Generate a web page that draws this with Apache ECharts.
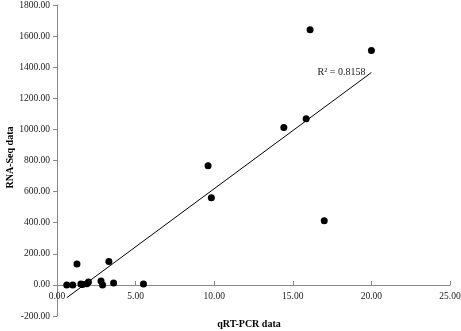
<!DOCTYPE html>
<html>
<head>
<meta charset="utf-8">
<script src="https://cdn.jsdelivr.net/npm/echarts@6/dist/echarts.min.js"></script>
<style>
    html, body { margin: 0; padding: 0; background: #fff; }
    #chart { width: 461px; height: 331px; }
</style>
</head>
<body>
<div id="chart"></div>
<script>
// qRT-PCR (x) vs RNA-Seq (y)
const qpcr = [0.62, 1.0, 1.27, 1.52, 1.62, 1.9, 2.0, 2.8, 2.9, 3.3, 3.6, 5.5, 9.61, 9.82, 14.43, 15.85, 16.1, 17.0, 20.0];
const rnaseq = [0, 0, 135, 5, 3, 8, 18, 25, 0, 150, 12, 5, 767, 560, 1013, 1068, 1641, 412, 1508];
const r2Text = 'R² = 0.8158';
const yMin = -200, yMax = 1800;

const points = qpcr.map((x, i) => [x, rnaseq[i]]);

// linear trend line (least squares) over the range of x
function trendLine(xs, ys) {
    const n = xs.length;
    const mx = xs.reduce((a, b) => a + b, 0) / n;
    const my = ys.reduce((a, b) => a + b, 0) / n;
    let sxy = 0, sxx = 0;
    for (let i = 0; i < n; i++) {
        sxy += (xs[i] - mx) * (ys[i] - my);
        sxx += (xs[i] - mx) * (xs[i] - mx);
    }
    const slope = sxy / sxx;
    const icpt = my - slope * mx;
    const x0 = Math.min(...xs), x1 = Math.max(...xs);
    return [[x0, icpt + slope * x0], [x1, icpt + slope * x1]];
}
const fit = trendLine(qpcr, rnaseq);

const font = 'Liberation Serif';
const gridTop = 5, gridBottom = 15;
// x axis sits on y = 0, labels included
const plotH = 331 - gridTop - gridBottom;
const xOffset = -Math.round((0 - yMin) / (yMax - yMin) * plotH);

const chart = echarts.init(document.getElementById('chart'));
chart.setOption({
    animation: false,
    grid: { left: 57, right: 11, top: gridTop, bottom: gridBottom, containLabel: false, outerBoundsMode: 'none' },
    xAxis: {
        type: 'value',
        min: 0, max: 25, interval: 5,
        offset: xOffset,
        name: 'qRT-PCR data',
        nameLocation: 'middle',
        nameGap: 34,
        nameMoveOverlap: false,
        nameTextStyle: { fontFamily: font, fontSize: 10, fontWeight: 'bold', color: '#000', padding: [0, 9, 0, 0] },
        axisLine: { onZero: false, lineStyle: { color: '#888', width: 1 } },
        axisTick: { inside: true, length: 4, lineStyle: { color: '#888' } },
        axisLabel: { fontFamily: font, fontSize: 9.5, color: '#1a1a1a', margin: 6,
            formatter: v => v.toFixed(2) },
        splitLine: { show: false }
    },
    yAxis: {
        type: 'value',
        min: yMin, max: yMax, interval: 200,
        name: 'RNA-Seq data',
        nameLocation: 'middle',
        nameGap: 42,
        nameMoveOverlap: false,
        nameTextStyle: { fontFamily: font, fontSize: 10, fontWeight: 'bold', color: '#000', padding: [0, 0, 0, 6] },
        axisLine: { show: true, lineStyle: { color: '#888', width: 1 } },
        axisTick: { show: true, length: 4, lineStyle: { color: '#888' } },
        axisLabel: { fontFamily: font, fontSize: 9.5, color: '#1a1a1a', margin: 7,
            formatter: v => v.toFixed(2) },
        splitLine: { show: false }
    },
    series: [
        {
            type: 'scatter',
            data: points,
            symbolSize: 7,
            itemStyle: { color: '#000', opacity: 1 }
        },
        {
            type: 'line',
            data: fit,
            symbol: 'none',
            lineStyle: { color: '#000', width: 1 },
            label: { show: false },
            markPoint: {
                symbol: 'circle',
                symbolSize: 0,
                data: [{
                    coord: fit[1],
                    label: { show: true, position: 'left', distance: 6, formatter: r2Text,
                        fontFamily: font, fontSize: 10, color: '#1a1a1a' }
                }]
            }
        }
    ]
});
</script>
</body>
</html>
